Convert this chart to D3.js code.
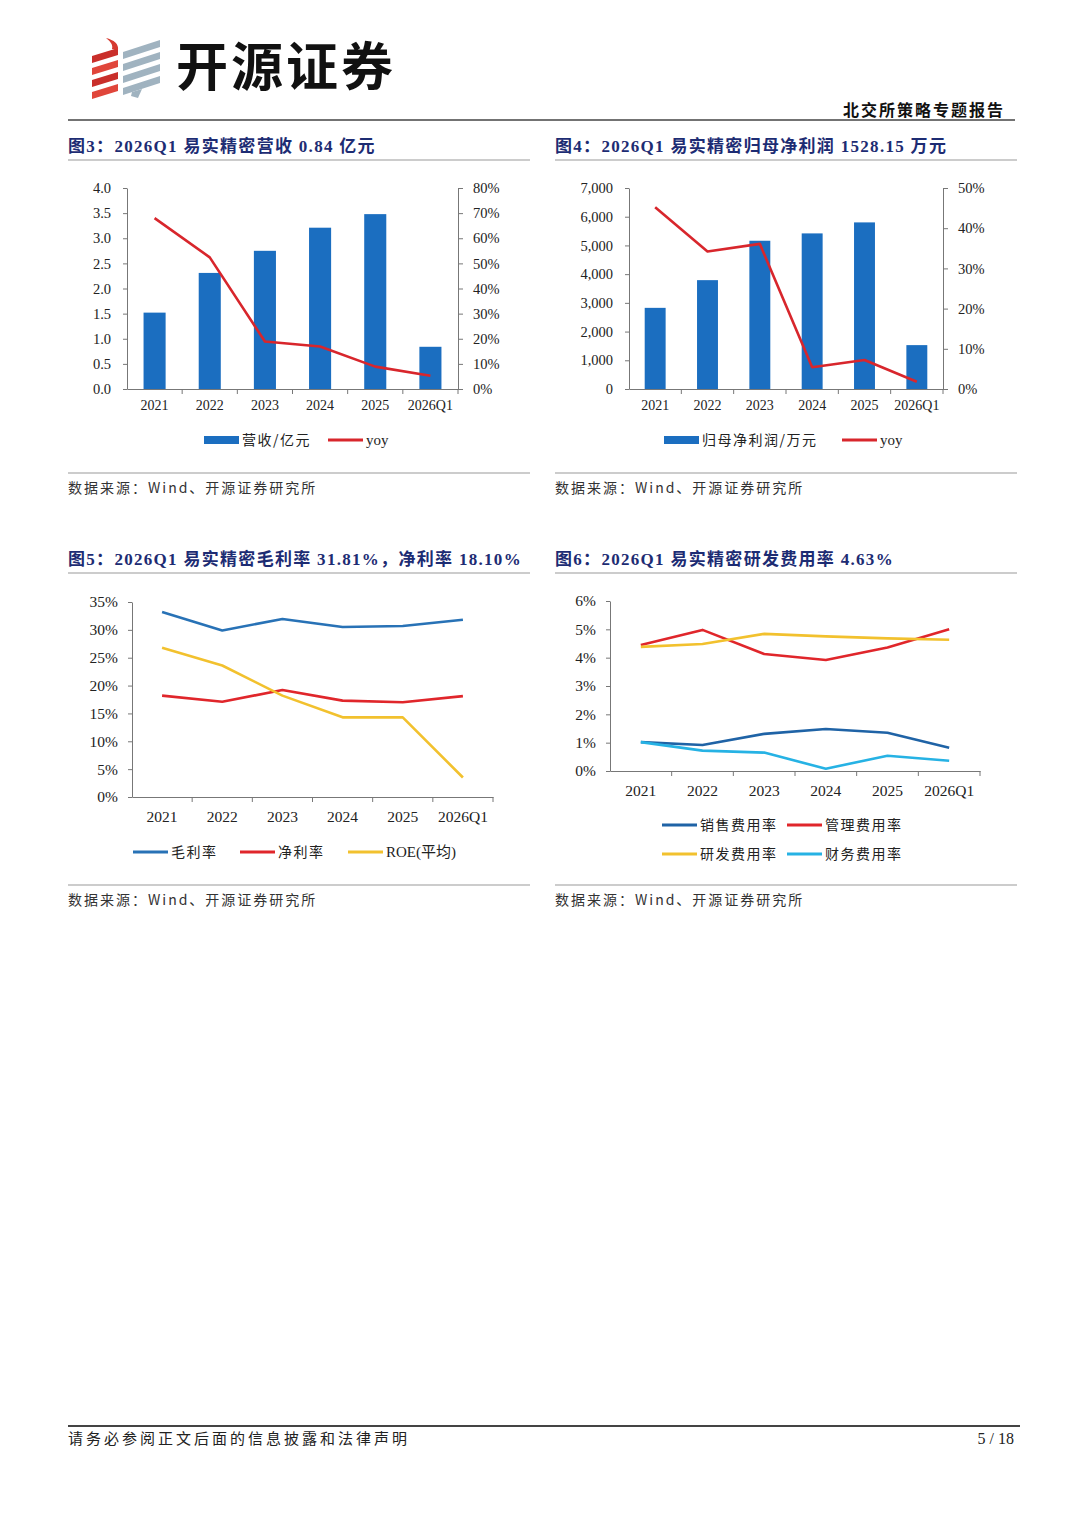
<!DOCTYPE html>
<html>
<head>
<meta charset="utf-8">
<script src="https://cdn.jsdelivr.net/npm/d3@7"></script>
<style>
  body { margin: 0; background: #fff; }
  svg { display: block; }
</style>
</head>
<body>
<div id="page"></div>
<script>
// ---- data ----
const years = ["2021", "2022", "2023", "2024", "2025", "2026Q1"];

// fig 3: revenue (亿元) and yoy
const revenue = [1.52, 2.31, 2.75, 3.21, 3.48, 0.84];
const revenueYoy = [0.68, 0.524, 0.189, 0.169, 0.089, 0.053];
const revenueTicks = [0, 0.5, 1.0, 1.5, 2.0, 2.5, 3.0, 3.5, 4.0];
const revenueYoyTicks = [0, 0.1, 0.2, 0.3, 0.4, 0.5, 0.6, 0.7, 0.8];

// fig 4: net profit attributable (万元) and yoy
const profit = [2826, 3791, 5163, 5419, 5802, 1528.15];
const profitYoy = [0.452, 0.342, 0.361, 0.054, 0.072, 0.018];
const profitTicks = [0, 1000, 2000, 3000, 4000, 5000, 6000, 7000];
const profitYoyTicks = [0, 0.1, 0.2, 0.3, 0.4, 0.5];

// fig 5: margins
const grossMargin = [0.332, 0.299, 0.3195, 0.305, 0.307, 0.3181];
const netMargin = [0.182, 0.171, 0.192, 0.173, 0.170, 0.181];
const roeAvg = [0.268, 0.236, 0.182, 0.143, 0.143, 0.035];
const marginTicks = [0, 0.05, 0.10, 0.15, 0.20, 0.25, 0.30, 0.35];

// fig 6: expense ratios
const sellRate = [0.0102, 0.0092, 0.0131, 0.0148, 0.0135, 0.0082];
const mgmtRate = [0.0445, 0.0498, 0.0413, 0.0392, 0.0436, 0.0500];
const rdRate = [0.0438, 0.0448, 0.0484, 0.0475, 0.0468, 0.0463];
const finRate = [0.0102, 0.0072, 0.0065, 0.0008, 0.0054, 0.0036];
const expenseTicks = [0, 0.01, 0.02, 0.03, 0.04, 0.05, 0.06];

const NAVY = "#1d2c73";
const BAR = "#1b6ec0";
const RED = "#d8262c";
const SERIF = "'Liberation Serif', 'Noto Sans CJK SC', serif";
const CJK = "'Noto Sans CJK SC', 'Liberation Serif', sans-serif";

var svg = d3.select("#page")
  .append("svg")
  .attr("width", 1080)
  .attr("height", 1527)
  .style("background", "#fff");

// ---- page header ----
var logo = svg.append("g").attr("transform", "translate(92,36)");
// red ribbon: stacked bands, slight downward slant to the left
[12, 24, 36, 48].forEach(function (yy, i) {
  logo.append("path")
    .attr("d", `M0,${yy + 8} L26,${yy} L26,${yy + 7} L0,${yy + 15} Z`)
    .attr("fill", i % 2 ? "#e0463b" : "#c92f2b");
});
logo.append("path").attr("d", "M14,2 C22,4 27,8 26,14 L20,13 C21,9 19,6 14,2 Z").attr("fill", "#d63a30");
// grey-blue ribbon
[6, 18, 30, 42].forEach(function (yy) {
  logo.append("path")
    .attr("d", `M31,${yy + 10} L68,${yy - 2} L68,${yy + 5} L31,${yy + 17} Z`)
    .attr("fill", "#a0b3c0");
});
logo.append("path").attr("d", "M40,56 L50,53 L46,62 L39,60 Z").attr("fill", "#a0b3c0");

svg.append("text")
  .attr("x", 176).attr("y", 86)
  .attr("font-family", CJK).attr("font-weight", 700)
  .attr("font-size", 52).attr("fill", "#111")
  .attr("letter-spacing", 3)
  .text("开源证券");

svg.append("text")
  .attr("x", 1005).attr("y", 116)
  .attr("text-anchor", "end")
  .attr("font-family", CJK).attr("font-weight", 700)
  .attr("font-size", 16).attr("letter-spacing", 2).attr("fill", "#111")
  .text("北交所策略专题报告");

svg.append("line")
  .attr("x1", 68).attr("x2", 1015).attr("y1", 120).attr("y2", 120)
  .attr("stroke", "#444").attr("stroke-width", 1.5);

// ---- footer ----
svg.append("line")
  .attr("x1", 68).attr("x2", 1020).attr("y1", 1426).attr("y2", 1426)
  .attr("stroke", "#444").attr("stroke-width", 2);
svg.append("text")
  .attr("x", 68).attr("y", 1444)
  .attr("font-family", CJK).attr("font-size", 15).attr("letter-spacing", 3).attr("fill", "#222")
  .text("请务必参阅正文后面的信息披露和法律声明");
svg.append("text")
  .attr("x", 1014).attr("y", 1444).attr("text-anchor", "end")
  .attr("font-family", SERIF).attr("font-size", 16).attr("fill", "#222")
  .text("5 / 18");

// ---- shared pieces ----
function panelFrame(x0, x1, titleY, title, srcLineY) {
  svg.append("text")
    .attr("x", x0).attr("y", titleY)
    .attr("font-family", SERIF).attr("font-weight", 700)
    .attr("font-size", 17).attr("letter-spacing", 1.3).attr("fill", NAVY)
    .text(title);
  svg.append("line")
    .attr("x1", x0).attr("x2", x1).attr("y1", titleY + 8).attr("y2", titleY + 8)
    .attr("stroke", "#999").attr("stroke-width", 1.2);
  svg.append("line")
    .attr("x1", x0).attr("x2", x1).attr("y1", srcLineY).attr("y2", srcLineY)
    .attr("stroke", "#999").attr("stroke-width", 1.2);
  svg.append("text")
    .attr("x", x0).attr("y", srcLineY + 20)
    .attr("font-family", CJK).attr("font-size", 14).attr("letter-spacing", 2).attr("fill", "#333")
    .text("数据来源：Wind、开源证券研究所");
}

function styleAxis(g, fontSize) {
  g.select(".domain").attr("stroke", "#777");
  g.selectAll(".tick line").attr("stroke", "#777");
  g.selectAll(".tick text")
    .attr("font-family", SERIF).attr("font-size", fontSize).attr("fill", "#222");
}

// x axis: labels at band centres, ticks at band edges
function categoryAxis(g, x, bottom, labelDy, fontSize) {
  var ax = g.append("g")
    .attr("transform", `translate(0,${bottom})`)
    .call(d3.axisBottom(x).tickSize(0).tickPadding(labelDy));
  styleAxis(ax, fontSize);
  ax.selectAll(".tick text").attr("dy", "0.35em").attr("y", labelDy);
  g.selectAll(".xedge")
    .data(x.domain())
    .enter().append("line")
    .attr("class", "xedge")
    .attr("x1", d => x(d) + x.bandwidth()).attr("x2", d => x(d) + x.bandwidth())
    .attr("y1", bottom).attr("y2", bottom + 5)
    .attr("stroke", "#777");
}

function legendItem(g, kind, x, y, color, label, family) {
  if (kind === "bar") {
    g.append("rect").attr("x", x).attr("y", y - 4).attr("width", 35).attr("height", 8).attr("fill", color);
  } else {
    g.append("line").attr("x1", x).attr("x2", x + 35).attr("y1", y).attr("y2", y)
      .attr("stroke", color).attr("stroke-width", 3);
  }
  g.append("text")
    .attr("x", x + 38).attr("y", y).attr("dy", "0.35em")
    .attr("font-family", family || CJK).attr("font-size", family ? 15 : 14)
    .attr("letter-spacing", family ? 0 : 1.5)
    .attr("fill", "#222")
    .text(label);
}

// ---- bar + yoy line chart ----
function barLineChart(o) {
  var g = svg.append("g");
  var x = d3.scaleBand().domain(years).range([o.left, o.right]).padding(0);
  var y = d3.scaleLinear().domain([0, d3.max(o.leftTicks)]).range([o.bottom, o.top]);
  var y2 = d3.scaleLinear().domain([0, d3.max(o.rightTicks)]).range([o.bottom, o.top]);

  var barW = x.bandwidth() * 0.4;
  g.selectAll("rect.bar")
    .data(o.bars)
    .enter().append("rect")
    .attr("class", "bar")
    .attr("x", (d, i) => x(years[i]) + (x.bandwidth() - barW) / 2)
    .attr("y", d => y(d))
    .attr("width", barW)
    .attr("height", d => o.bottom - y(d))
    .attr("fill", BAR);

  var yl = g.append("g").attr("transform", `translate(${o.left},0)`)
    .call(d3.axisLeft(y).tickValues(o.leftTicks).tickFormat(o.leftFmt).tickSize(4).tickSizeOuter(0).tickPadding(12));
  styleAxis(yl, 14.5);
  var yr = g.append("g").attr("transform", `translate(${o.right},0)`)
    .call(d3.axisRight(y2).tickValues(o.rightTicks).tickFormat(d3.format(".0%")).tickSize(5).tickSizeOuter(0).tickPadding(10));
  styleAxis(yr, 14.5);
  categoryAxis(g, x, o.bottom, 16, 14);

  var line = d3.line()
    .x((d, i) => x(years[i]) + x.bandwidth() / 2)
    .y(d => y2(d));
  g.append("path")
    .datum(o.yoy)
    .attr("d", line)
    .attr("fill", "none")
    .attr("stroke", RED).attr("stroke-width", 2.6).attr("stroke-linejoin", "round");

  legendItem(g, "bar", o.legendX, o.legendY, BAR, o.barLabel);
  legendItem(g, "line", o.legendX2, o.legendY, RED, "yoy", SERIF);
}

// ---- multi-line chart ----
function multiLineChart(o) {
  var g = svg.append("g");
  var x = d3.scaleBand().domain(years).range([o.left, o.right]).padding(0);
  var y = d3.scaleLinear().domain([0, d3.max(o.ticks)]).range([o.bottom, o.top]);

  var yl = g.append("g").attr("transform", `translate(${o.left},0)`)
    .call(d3.axisLeft(y).tickValues(o.ticks).tickFormat(d3.format(".0%")).tickSize(4).tickSizeOuter(0).tickPadding(10));
  styleAxis(yl, 15.5);
  categoryAxis(g, x, o.bottom, 20, 15.5);

  var line = d3.line()
    .x((d, i) => x(years[i]) + x.bandwidth() / 2)
    .y(d => y(d));
  o.series.forEach(function (s) {
    g.append("path")
      .datum(s.values)
      .attr("d", line)
      .attr("fill", "none")
      .attr("stroke", s.color).attr("stroke-width", 2.6).attr("stroke-linejoin", "round");
    legendItem(g, "line", s.lx, s.ly, s.color, s.label, s.family);
  });
}

// ---- figure 3 ----
panelFrame(68, 530, 152, "图3：2026Q1 易实精密营收 0.84 亿元", 473);
barLineChart({
  left: 127, right: 458, top: 188, bottom: 389,
  bars: revenue, yoy: revenueYoy,
  leftTicks: revenueTicks, rightTicks: revenueYoyTicks,
  leftFmt: d3.format(".1f"),
  barLabel: "营收/亿元",
  legendX: 204, legendX2: 328, legendY: 440
});

// ---- figure 4 ----
panelFrame(555, 1017, 152, "图4：2026Q1 易实精密归母净利润 1528.15 万元", 473);
barLineChart({
  left: 629, right: 943, top: 188, bottom: 389,
  bars: profit, yoy: profitYoy,
  leftTicks: profitTicks, rightTicks: profitYoyTicks,
  leftFmt: d3.format(","),
  barLabel: "归母净利润/万元",
  legendX: 664, legendX2: 842, legendY: 440
});

// ---- figure 5 ----
panelFrame(68, 530, 565, "图5：2026Q1 易实精密毛利率 31.81%，净利率 18.10%", 885);
multiLineChart({
  left: 132, right: 493, top: 602, bottom: 797,
  ticks: marginTicks,
  series: [
    { values: grossMargin, color: "#2872b6", label: "毛利率", lx: 133, ly: 852 },
    { values: netMargin, color: "#e0262b", label: "净利率", lx: 240, ly: 852 },
    { values: roeAvg, color: "#f2c12e", label: "ROE(平均)", lx: 348, ly: 852, family: SERIF }
  ]
});

// ---- figure 6 ----
panelFrame(555, 1017, 565, "图6：2026Q1 易实精密研发费用率 4.63%", 885);
multiLineChart({
  left: 610, right: 980, top: 601, bottom: 771,
  ticks: expenseTicks,
  series: [
    { values: sellRate, color: "#1f63a6", label: "销售费用率", lx: 662, ly: 825 },
    { values: mgmtRate, color: "#e0262b", label: "管理费用率", lx: 787, ly: 825 },
    { values: rdRate, color: "#f2c12e", label: "研发费用率", lx: 662, ly: 854 },
    { values: finRate, color: "#26b2e4", label: "财务费用率", lx: 787, ly: 854 }
  ]
});
</script>
</body>
</html>
